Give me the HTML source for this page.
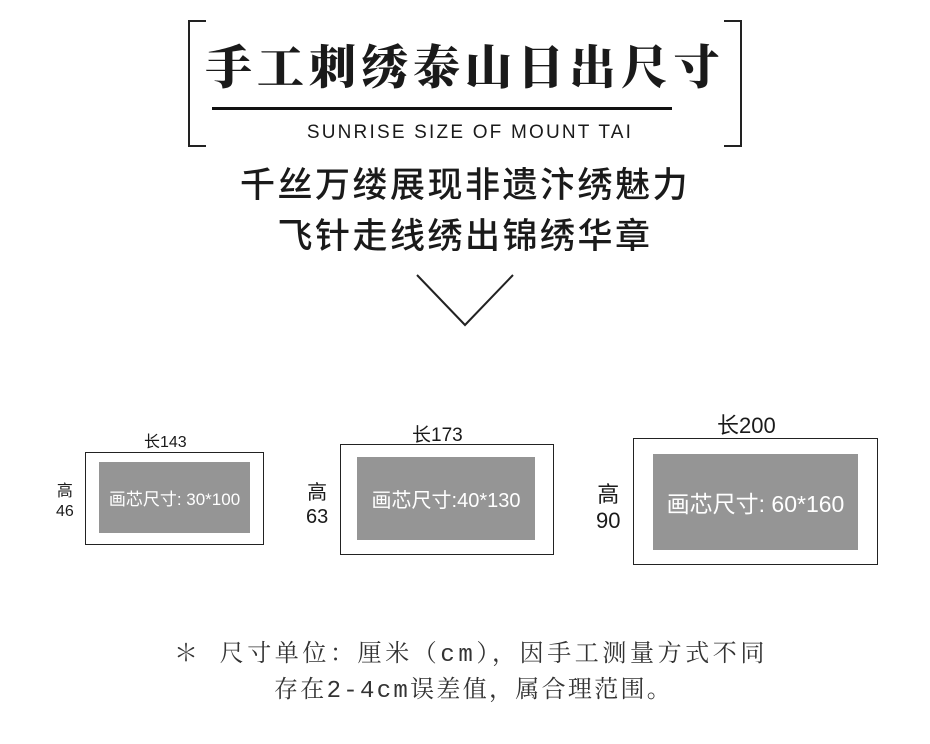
<!DOCTYPE html>
<html><head><meta charset="utf-8"><style>
body{margin:0;width:930px;height:744px;background:#fff;position:relative;overflow:hidden;font-family:"Liberation Sans","Noto Sans CJK SC",sans-serif;color:#1a1a1a}
.a{position:absolute;white-space:nowrap}
.br{position:absolute;border:2px solid #222}
.box{position:absolute;border:1.5px solid #222;box-sizing:border-box}
.in{position:absolute;background:#959595;color:#fff;display:flex;align-items:center;justify-content:center;white-space:nowrap}
.ft{font-family:"Liberation Mono","Noto Serif CJK SC",monospace;font-size:24px;letter-spacing:2px;line-height:30px;color:#333}
</style></head><body>
<div class="br" style="left:188px;top:20px;width:16px;height:123px;border-right:none"></div>
<div class="br" style="left:724px;top:20px;width:16px;height:123px;border-left:none"></div>
<div class="a" style="left:205px;top:36px;width:520px;text-align:center;font-family:'Noto Serif CJK SC',serif;font-weight:900;font-size:47px;letter-spacing:5px;line-height:58px">手工刺绣泰山日出尺寸</div>
<div class="a" style="left:212px;top:107px;width:460px;height:3px;background:#111"></div>
<div class="a" style="left:302px;top:121px;width:336px;text-align:center;font-size:19px;letter-spacing:2.2px;line-height:24px">SUNRISE SIZE OF MOUNT TAI</div>
<div class="a" style="left:165px;top:164px;width:600px;text-align:center;font-size:35px;letter-spacing:2.5px;line-height:44px;font-weight:500">千丝万缕展现非遗汴绣魅力</div>
<div class="a" style="left:165px;top:215px;width:600px;text-align:center;font-size:35px;letter-spacing:2.5px;line-height:44px;font-weight:500">飞针走线绣出锦绣华章</div>
<svg class="a" style="left:0;top:0" width="930" height="744"><polyline points="417,275 465,325 513,275" fill="none" stroke="#222" stroke-width="2"/></svg>

<div class="a" style="left:144px;top:428px;font-size:16px">长143</div>
<div class="a" style="left:56px;top:482px;font-size:16px;line-height:20px;text-align:center">高<br>46</div>
<div class="box" style="left:85px;top:452px;width:179px;height:93px"></div>
<div class="in" style="left:99px;top:462px;width:151px;height:71px;font-size:17px">画芯尺寸: 30*100</div>

<div class="a" style="left:412px;top:420px;font-size:19px">长173</div>
<div class="a" style="left:306px;top:481px;font-size:20px;line-height:24px;text-align:center">高<br>63</div>
<div class="box" style="left:340px;top:444px;width:214px;height:111px"></div>
<div class="in" style="left:357px;top:457px;width:178px;height:83px;font-size:20px">画芯尺寸:40*130</div>

<div class="a" style="left:717px;top:408px;font-size:22px">长200</div>
<div class="a" style="left:596px;top:482px;font-size:22px;line-height:26px;text-align:center">高<br>90</div>
<div class="box" style="left:633px;top:438px;width:245px;height:127px"></div>
<div class="in" style="left:653px;top:454px;width:205px;height:96px;font-size:23px">画芯尺寸: 60*160</div>

<div class="a ft" style="left:174px;top:641px;letter-spacing:3.6px">＊  尺寸单位：厘米（cm），因手工测量方式不同</div>
<div class="a ft" style="left:274px;top:677px;letter-spacing:2.3px">存在2-4cm误差值，属合理范围。</div>
</body></html>
